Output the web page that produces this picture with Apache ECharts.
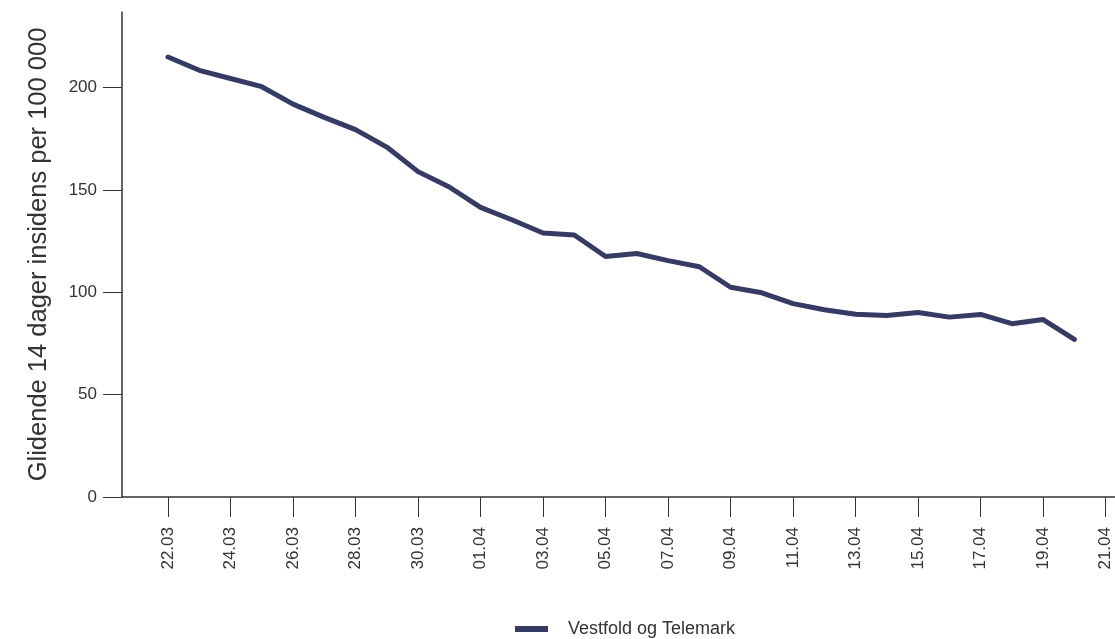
<!DOCTYPE html>
<html><head><meta charset="utf-8">
<script src="https://cdn.jsdelivr.net/npm/echarts@6/dist/echarts.min.js"></script>
<style>html,body{margin:0;padding:0;background:#fff}#c{width:1115px;height:639px}</style>
</head><body><div id="c"></div>
<script>
const dates = ["22.03","23.03","24.03","25.03","26.03","27.03","28.03","29.03","30.03","31.03",
  "01.04","02.04","03.04","04.04","05.04","06.04","07.04","08.04","09.04","10.04",
  "11.04","12.04","13.04","14.04","15.04","16.04","17.04","18.04","19.04","20.04"];
const values = [215, 208.5, 204.5, 200.5, 192, 185.5, 179.5, 171, 159, 151.5,
  141.5, 135.5, 129, 128, 117.5, 119, 115.5, 112.5, 102.5, 99.8,
  94.5, 91.5, 89.3, 88.7, 90.2, 87.9, 89.2, 84.7, 86.7, 77];
const tickLabels = ["22.03","24.03","26.03","28.03","30.03","01.04","03.04","05.04","07.04","09.04","11.04","13.04","15.04","17.04","19.04","21.04"];
const yTicks = [0, 50, 100, 150, 200];
const seriesName = "Vestfold og Telemark";
const yName = "Glidende 14 dager insidens per 100 000";

const tickPos = tickLabels.map((_, i) => i * 2);
const points = values.map((v, i) => [i, v]);
const font = "'Liberation Sans', Arial, sans-serif";

const chart = echarts.init(document.getElementById('c'));
chart.setOption({
  animation: false,
  textStyle: { fontFamily: font },
  grid: { left: 122, top: 12, right: 0, bottom: 142, containLabel: false },
  xAxis: {
    type: 'value', min: -1.472, max: 30.3,
    splitLine: { show: false },
    axisLine: { onZero: false, lineStyle: { color: '#333', width: 1.5 } },
    axisTick: { customValues: tickPos, length: 20, lineStyle: { color: '#333', width: 1 } },
    axisLabel: { customValues: tickPos, rotate: 90, margin: 30, color: '#333', fontSize: 17, fontFamily: font,
      formatter: v => tickLabels[Math.round(v / 2)] }
  },
  yAxis: {
    type: 'value', min: 0, max: 237,
    name: yName, nameLocation: 'middle', nameGap: 70,
    nameTextStyle: { fontSize: 25.5, color: '#333', fontFamily: font },
    splitLine: { show: false },
    axisLine: { show: true, onZero: false, lineStyle: { color: '#333', width: 1.5 } },
    axisTick: { show: true, customValues: yTicks, length: 19, lineStyle: { color: '#333', width: 1 } },
    axisLabel: { customValues: yTicks, margin: 25, color: '#333', fontSize: 17, fontFamily: font }
  },
  legend: {
    bottom: -4, left: 510, icon: 'rect', itemWidth: 33, itemHeight: 6, itemGap: 10,
    textStyle: { fontSize: 18, color: '#333', fontFamily: font, padding: [0, 0, 0, 15] },
    data: [seriesName]
  },
  series: [{
    name: seriesName, type: 'line', data: points, showSymbol: false,
    lineStyle: { color: '#363b64', width: 5, join: 'round', cap: 'round' },
    itemStyle: { color: '#363b64' }
  }]
});
</script></body></html>
